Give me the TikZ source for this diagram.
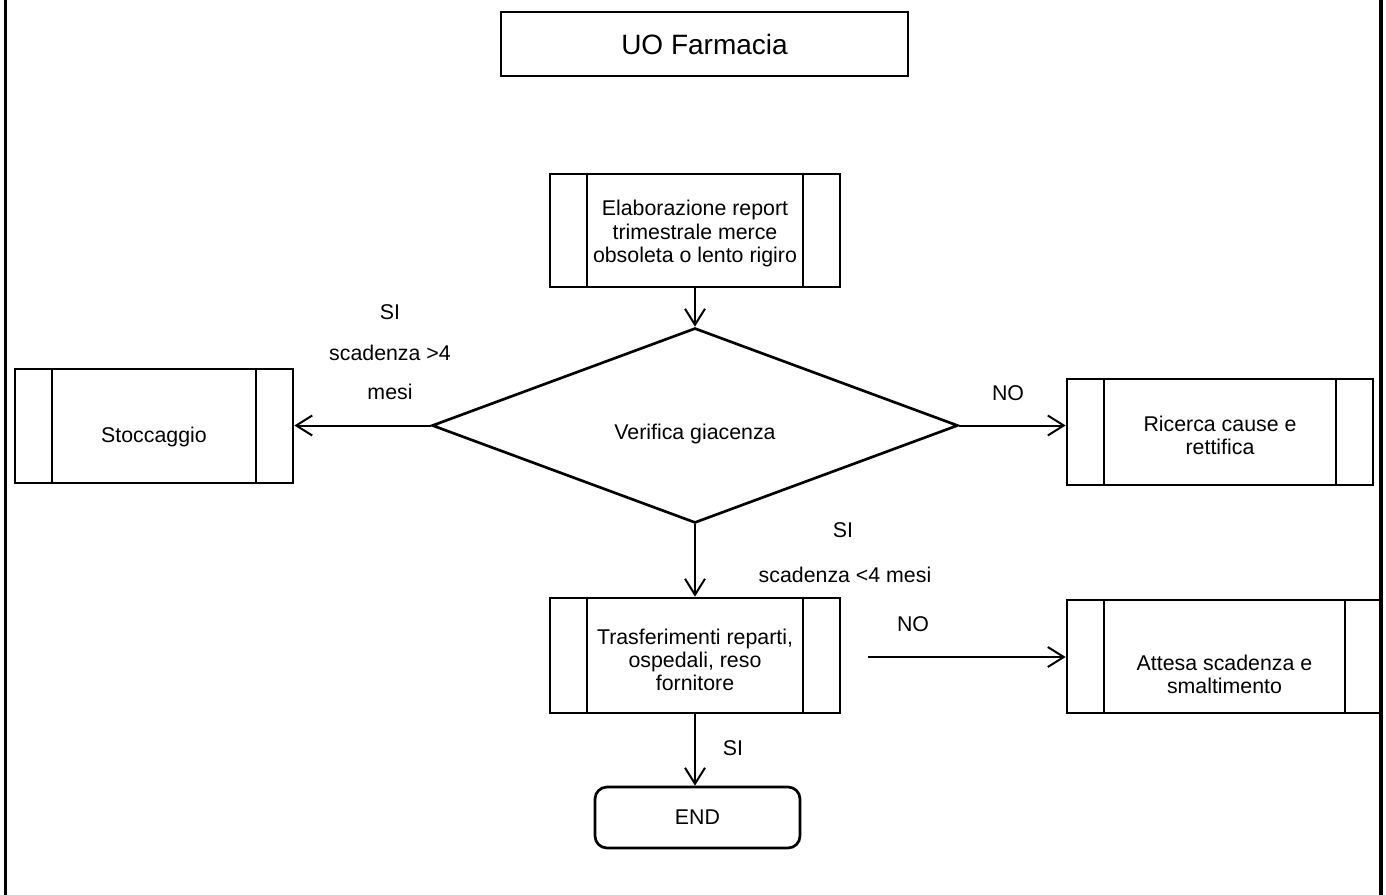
\documentclass[tikz,border=0pt]{standalone}
\usepackage{fontspec}
\setmainfont{Liberation Sans}
\usetikzlibrary{shapes.geometric,arrows.meta}
\begin{document}
\begin{tikzpicture}[x=0.75pt,y=-0.75pt,
  font=\fontsize{16}{17.3}\selectfont,
  box/.style={draw, line width=2pt, inner sep=0pt, align=center},
  proc/.style={box, path picture={
      \draw[line width=1.6pt] ([xshift=28pt]path picture bounding box.north west) -- ([xshift=28pt]path picture bounding box.south west);
      \draw[line width=1.6pt] ([xshift=-28pt]path picture bounding box.north east) -- ([xshift=-28pt]path picture bounding box.south east);}},
  ptext/.style={align=center, inner sep=0pt},
  arr/.style={-{Straight Barb[length=12pt,width=15pt,line width=1.5pt]}, line width=1.5pt},
  lbl/.style={inner sep=0pt}]
\useasboundingbox (0,0) rectangle (1386,895);
% frame
\draw[line width=2.3pt] (5.5,-5) -- (5.5,900);
\draw[line width=2.3pt] (1381,-5) -- (1381,900);
% nodes
\node[box, minimum width=305.25pt, minimum height=48pt, font=\fontsize{21}{24}\selectfont] (uo) at (704.5,44) {UO Farmacia};
\node[proc, minimum width=217.5pt, minimum height=84.75pt] (elab) at (695,230.5) {};
\node[ptext] (elabt) at (695,233.5) {Elaborazione report\\trimestrale merce\\obsoleta o lento rigiro};
\node[box, diamond, minimum width=394.5pt, minimum height=146.25pt] (diam) at (695,425.5) {};
\node[ptext] (diamt) at (695,434) {Verifica giacenza};
\node[proc, minimum width=208.5pt, minimum height=85.5pt] (stocc) at (154,426) {};
\node[ptext] (stocct) at (154,437) {Stoccaggio};
\node[proc, minimum width=229.5pt, minimum height=79.5pt] (ric) at (1220,432) {};
\node[ptext] (rict) at (1220,435.5) {Ricerca cause e\\rettifica};
\node[proc, minimum width=217.5pt, minimum height=86.25pt] (trasf) at (695,655.5) {};
\node[ptext] (trasft) at (695,659.5) {Trasferimenti reparti,\\ospedali, reso\\fornitore};
\node[proc, minimum width=236.25pt, minimum height=84.75pt] (att) at (1224.5,656.5) {};
\node[ptext] (attt) at (1224.5,674.5) {Attesa scadenza e\\smaltimento};
\node[box, rounded corners=9pt, minimum width=153.75pt, minimum height=45.75pt] (fine) at (697.5,817.5) {END};
% labels
\node[lbl] (si1) at (390,312) {SI};
\node[lbl] (sc1) at (390,353) {scadenza >4};
\node[lbl] (me1) at (390,392) {mesi};
\node[lbl] (no1) at (1008,393) {NO};
\node[lbl] (si2) at (843,530) {SI};
\node[lbl] (sc2) at (845,575) {scadenza <4 mesi};
\node[lbl] (no2) at (913,624) {NO};
\node[lbl] (si3) at (733,748) {SI};
% connectors
\coordinate (nostart) at (868,657);
\draw[arr] (elab.south) -- (diam.north);
\draw[arr] (diam.west) -- (stocc.east |- diam.west);
\draw[arr] (diam.east) -- (ric.west |- diam.east);
\draw[arr] (diam.south) -- (trasf.north);
\draw[arr] (nostart) -- (att.west |- nostart);
\draw[arr] (trasf.south) -- (trasf.south |- fine.north);
\end{tikzpicture}
\end{document}
